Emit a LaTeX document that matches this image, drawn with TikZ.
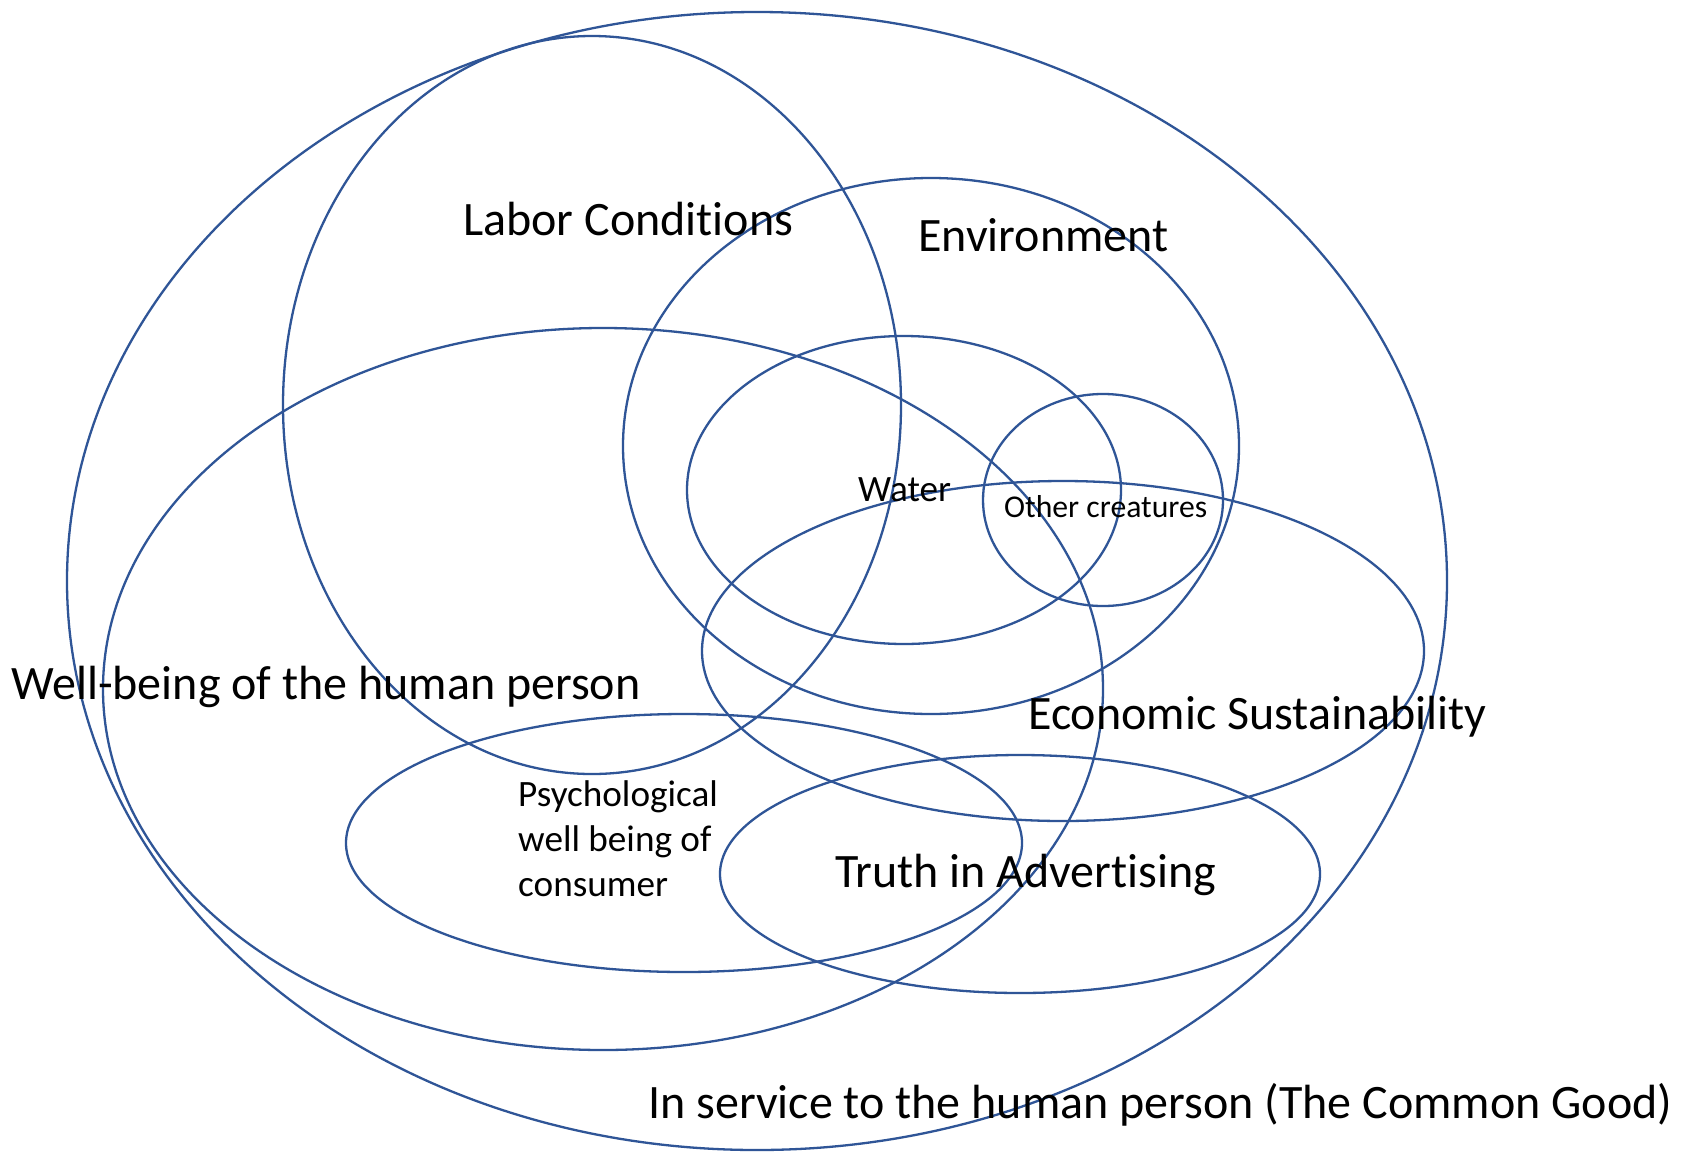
\documentclass[tikz,border=0pt]{standalone}
\usepackage{fontspec}
\setmainfont{Carlito}[Ligatures={NoCommon}]
\definecolor{ringblue}{RGB}{47,85,151}
\begin{document}
\begin{tikzpicture}[x=1pt,y=-1pt,
  ring/.style={draw=ringblue,line width=2.3pt},
  biglabel/.style={anchor=base west,inner sep=0pt,font=\fontsize{48}{58}\selectfont},
  midlabel/.style={anchor=base west,inner sep=0pt,font=\fontsize{37.2}{45}\selectfont},
  smalllabel/.style={anchor=base west,inner sep=0pt,font=\fontsize{31.7}{38}\selectfont}]
\useasboundingbox[fill=white] (0,0) rectangle (1691,1154);
% ellipses
\draw[ring] (757,581) ellipse [x radius=690, y radius=569];   % common good
\draw[ring] (592,405) ellipse [x radius=309, y radius=369];   % labor
\draw[ring] (931,446) ellipse [x radius=308, y radius=268];   % environment
\draw[ring] (603,689) ellipse [x radius=500, y radius=361];   % well-being
\draw[ring] (904,490) ellipse [x radius=217, y radius=154];   % water
\draw[ring] (1103,500) ellipse [x radius=120, y radius=106];  % other creatures
\draw[ring] (1063,651) ellipse [x radius=361, y radius=170];  % economic
\draw[ring] (684,843) ellipse [x radius=338, y radius=129];   % psychological
\draw[ring] (1020,874) ellipse [x radius=300, y radius=119];  % truth
% labels
\node[biglabel] (labor) at (463,235) {Labor Conditions};
\node[biglabel] (env) at (918,251) {Environment};
\node[midlabel] (water) at (858,501) {Water};
\node[smalllabel] (other) at (1004,517) {Other creatures};
\node[biglabel] (well) at (11,699) {Well-being of the human person};
\node[biglabel] (econ) at (1028,729) {Economic Sustainability};
\node[midlabel] (psychA) at (518,806) {Psychological};
\node[midlabel] (psychB) at (518,851) {well being of};
\node[midlabel] (psychC) at (518,896) {consumer};
\node[biglabel] (truth) at (835,887) {Truth in Advertising};
\node[biglabel] (common) at (648,1118) {In service to the human person (The Common Good)};
\end{tikzpicture}
\end{document}
